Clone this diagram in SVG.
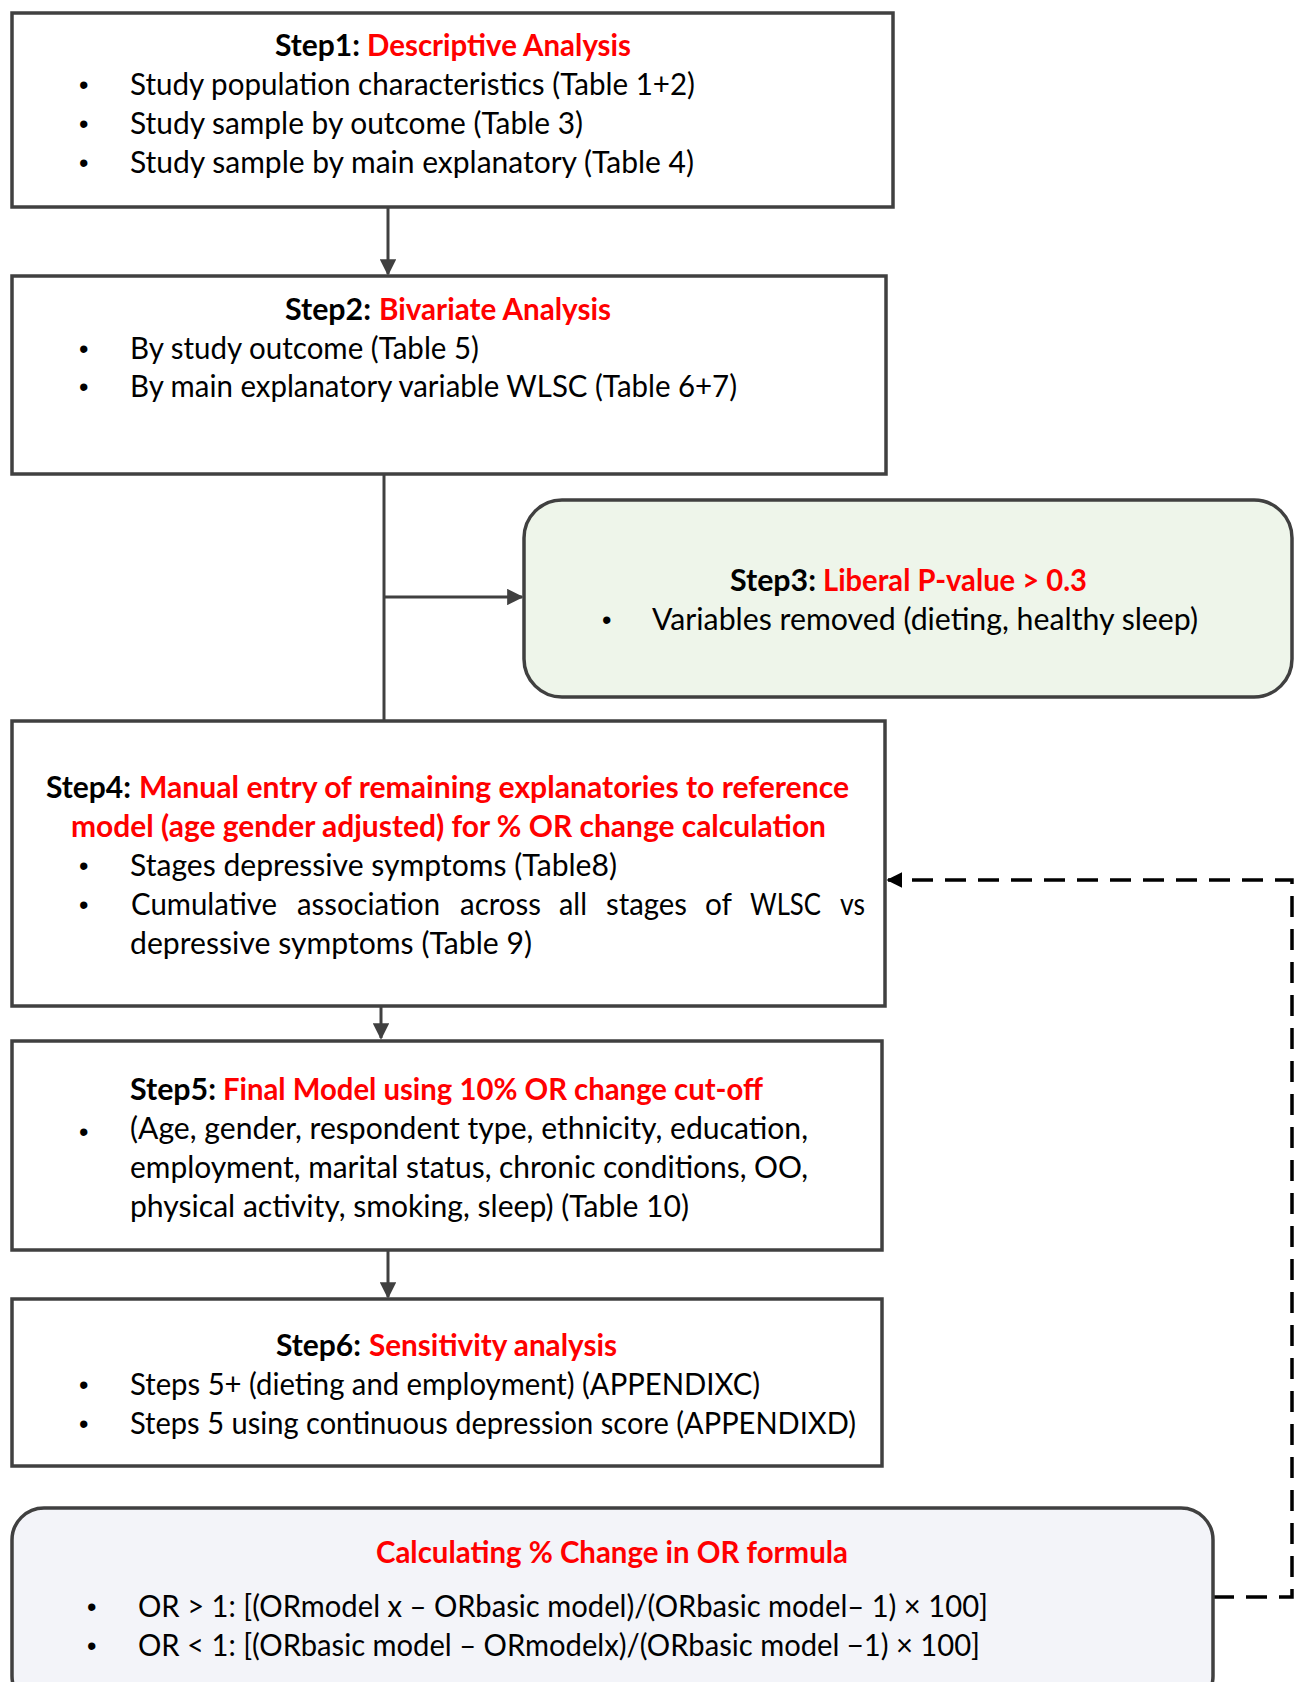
<svg xmlns="http://www.w3.org/2000/svg" width="1300" height="1682" viewBox="0 0 1300 1682">
<defs>
<style>
.box{fill:#ffffff;stroke:#404040;stroke-width:3.5}
.t{font-family:Lato,"Open Sans","Liberation Sans",sans-serif;font-size:30px;fill:#000}
.bu{font-family:"Liberation Sans",sans-serif;font-size:27px;fill:#000}
.b{font-weight:bold}
.r{fill:#ff0000;font-weight:bold}
.con{stroke:#404040;stroke-width:3;fill:none}
.dash{stroke:#000;stroke-width:3.5;fill:none;stroke-dasharray:21 12}
</style>
<marker id="ah" viewBox="0 0 10 10" refX="9" refY="5" markerWidth="5.5" markerHeight="5.5" orient="auto" markerUnits="strokeWidth"><path d="M0,0 L10,5 L0,10 z" fill="#404040"/></marker>
<marker id="ahk" viewBox="0 0 10 10" refX="9" refY="5" markerWidth="4.5" markerHeight="4.5" orient="auto" markerUnits="strokeWidth"><path d="M0,0 L10,5 L0,10 z" fill="#000"/></marker>
</defs>
<rect width="1300" height="1682" fill="#fff"/>

<g id="connectors">
<line class="con" x1="388" y1="207" x2="388" y2="274" marker-end="url(#ah)"/>
<line class="con" x1="384" y1="474" x2="384" y2="721"/>
<line class="con" x1="384" y1="597" x2="522" y2="597" marker-end="url(#ah)"/>
<line class="con" x1="381" y1="1006" x2="381" y2="1038" marker-end="url(#ah)"/>
<line class="con" x1="388" y1="1250" x2="388" y2="1297" marker-end="url(#ah)"/>
<path class="dash" d="M1213,1597 H1292 V880 H888" marker-end="url(#ahk)"/>
</g>

<g id="step1">
<rect class="box" x="12" y="13" width="881" height="194"/>
<text class="t b" x="275" y="56" textLength="85" lengthAdjust="spacingAndGlyphs">Step1:</text>
<text class="t r" x="367" y="56" textLength="264" lengthAdjust="spacingAndGlyphs">Descriptive Analysis</text>
<text class="bu" x="79" y="94">•</text>
<text class="t" x="130" y="95" textLength="565" lengthAdjust="spacingAndGlyphs">Study population characteristics (Table 1+2)</text>
<text class="bu" x="79" y="133">•</text>
<text class="t" x="130" y="134" textLength="453" lengthAdjust="spacingAndGlyphs">Study sample by outcome (Table 3)</text>
<text class="bu" x="79" y="172">•</text>
<text class="t" x="130" y="173" textLength="564" lengthAdjust="spacingAndGlyphs">Study sample by main explanatory (Table 4)</text>
</g>

<g id="step2">
<rect class="box" x="12" y="276" width="874" height="198"/>
<text class="t b" x="285" y="320" textLength="86" lengthAdjust="spacingAndGlyphs">Step2:</text>
<text class="t r" x="379" y="320" textLength="232" lengthAdjust="spacingAndGlyphs">Bivariate Analysis</text>
<text class="bu" x="79" y="358">•</text>
<text class="t" x="130" y="359" textLength="349" lengthAdjust="spacingAndGlyphs">By study outcome (Table 5)</text>
<text class="bu" x="79" y="396">•</text>
<text class="t" x="130" y="397" textLength="607" lengthAdjust="spacingAndGlyphs">By main explanatory variable WLSC (Table 6+7)</text>
</g>

<g id="step3">
<rect x="524" y="500" width="768" height="197" rx="38" ry="38" fill="#eef5ea" stroke="#404040" stroke-width="3.5"/>
<text class="t b" x="730" y="591" textLength="86" lengthAdjust="spacingAndGlyphs">Step3:</text>
<text class="t r" x="823" y="591" textLength="264" lengthAdjust="spacingAndGlyphs">Liberal P-value &gt; 0.3</text>
<text class="bu" x="602" y="629">•</text>
<text class="t" x="652" y="630" textLength="546" lengthAdjust="spacingAndGlyphs">Variables removed (dieting, healthy sleep)</text>
</g>

<g id="step4">
<rect class="box" x="12" y="721" width="873" height="285"/>
<text class="t b" x="46" y="798" textLength="85" lengthAdjust="spacingAndGlyphs">Step4:</text>
<text class="t r" x="139" y="798" textLength="710" lengthAdjust="spacingAndGlyphs">Manual entry of remaining explanatories to reference</text>
<text class="t r" x="71" y="837" textLength="755" lengthAdjust="spacingAndGlyphs">model (age gender adjusted) for % OR change calculation</text>
<text class="bu" x="79" y="875">•</text>
<text class="t" x="130" y="876" textLength="487" lengthAdjust="spacingAndGlyphs">Stages depressive symptoms (Table8)</text>
<text class="bu" x="79" y="914">•</text>
<text class="t" x="131" y="915" textLength="146" lengthAdjust="spacingAndGlyphs">Cumulative</text>
<text class="t" x="297" y="915" textLength="143" lengthAdjust="spacingAndGlyphs">association</text>
<text class="t" x="460" y="915" textLength="81" lengthAdjust="spacingAndGlyphs">across</text>
<text class="t" x="559" y="915" textLength="28" lengthAdjust="spacingAndGlyphs">all</text>
<text class="t" x="606" y="915" textLength="81" lengthAdjust="spacingAndGlyphs">stages</text>
<text class="t" x="705" y="915" textLength="27" lengthAdjust="spacingAndGlyphs">of</text>
<text class="t" x="750" y="915" textLength="71" lengthAdjust="spacingAndGlyphs">WLSC</text>
<text class="t" x="840" y="915" textLength="25" lengthAdjust="spacingAndGlyphs">vs</text>
<text class="t" x="130" y="954" textLength="402" lengthAdjust="spacingAndGlyphs">depressive symptoms (Table 9)</text>
</g>

<g id="step5">
<rect class="box" x="12" y="1041" width="870" height="209"/>
<text class="t b" x="130" y="1100" textLength="86" lengthAdjust="spacingAndGlyphs">Step5:</text>
<text class="t r" x="223" y="1100" textLength="540" lengthAdjust="spacingAndGlyphs">Final Model using 10% OR change cut-off</text>
<text class="bu" x="79" y="1141">•</text>
<text class="t" x="130" y="1139" textLength="678" lengthAdjust="spacingAndGlyphs">(Age, gender, respondent type, ethnicity, education,</text>
<text class="t" x="130" y="1178" textLength="678" lengthAdjust="spacingAndGlyphs">employment, marital status, chronic conditions, OO,</text>
<text class="t" x="130" y="1217" textLength="559" lengthAdjust="spacingAndGlyphs">physical activity, smoking, sleep) (Table 10)</text>
</g>

<g id="step6">
<rect class="box" x="12" y="1299" width="870" height="167"/>
<text class="t b" x="276" y="1356" textLength="85" lengthAdjust="spacingAndGlyphs">Step6:</text>
<text class="t r" x="369" y="1356" textLength="248" lengthAdjust="spacingAndGlyphs">Sensitivity analysis</text>
<text class="bu" x="79" y="1394">•</text>
<text class="t" x="130" y="1395" textLength="630" lengthAdjust="spacingAndGlyphs">Steps 5+ (dieting and employment) (APPENDIXC)</text>
<text class="bu" x="79" y="1433">•</text>
<text class="t" x="130" y="1434" textLength="726" lengthAdjust="spacingAndGlyphs">Steps 5 using continuous depression score (APPENDIXD)</text>
</g>

<g id="formula">
<rect x="12" y="1508" width="1201" height="200" rx="32" ry="32" fill="#f3f4f9" stroke="#404040" stroke-width="3.5"/>
<text class="t r" x="376" y="1563" textLength="472" lengthAdjust="spacingAndGlyphs">Calculating % Change in OR formula</text>
<text class="bu" x="87" y="1616">•</text>
<text class="t" x="138" y="1617" textLength="850" lengthAdjust="spacingAndGlyphs">OR &gt; 1: [(ORmodel x – ORbasic model)/(ORbasic model– 1) × 100]</text>
<text class="bu" x="87" y="1655">•</text>
<text class="t" x="138" y="1656" textLength="842" lengthAdjust="spacingAndGlyphs">OR &lt; 1: [(ORbasic model – ORmodelx)/(ORbasic model −1) × 100]</text>
</g>
</svg>
